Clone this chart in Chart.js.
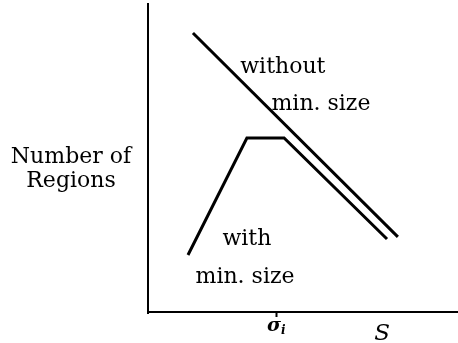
<!DOCTYPE html>
<html>
<head>
<meta charset="utf-8">
<script src="https://cdn.jsdelivr.net/npm/chart.js@4/dist/chart.umd.min.js"></script>
<style>
  html, body { margin: 0; padding: 0; background: #fff; }
  #wrap { width: 458px; height: 343px; }
</style>
</head>
<body>
<div id="wrap"><canvas id="regionsChart"></canvas></div>
<script>
// curve without minimum region size (straight fall)
const withoutMinX = [14.5, 80.6];
const withoutMinY = [90.6, 24.4];
// curve with minimum region size (rise, plateau, fall)
const withMinX = [12.9, 31.9, 43.9, 77.1];
const withMinY = [18.5, 56.5, 56.5, 23.7];
// x axis marks
const tickValues = [41.6, 75.5];
const tickLabels = ['σ', 'S'];

const toPoints = (xs, ys) => xs.map((x, i) => ({ x: x, y: ys[i] }));

const serif = '"DejaVu Serif", "Liberation Serif", serif';

// text labels drawn against the scales
const labelPlugin = {
    id: 'labels',
    afterDraw(chart) {
        const c = chart.ctx;
        const x = chart.scales.x;
        const y = chart.scales.y;
        c.save();
        c.fillStyle = '#000';
        c.textAlign = 'center';
        c.textBaseline = 'alphabetic';
        c.font = '22px ' + serif;

        c.fillText('without', x.getPixelForValue(43.5), y.getPixelForValue(77.6));
        c.fillText('min. size', x.getPixelForValue(55.8), y.getPixelForValue(65.6));
        c.fillText('with', x.getPixelForValue(31.9), y.getPixelForValue(21.8));
        c.fillText('min. size', x.getPixelForValue(31.3), y.getPixelForValue(9.4));

        // y axis title, horizontal, left of the axis
        const left = chart.chartArea.left;
        c.fillText('Number of', left - 77, y.getPixelForValue(48.4));
        c.fillText('Regions', left - 77, y.getPixelForValue(40.6));

        // x tick labels
        const base = chart.chartArea.bottom;
        const sx = x.getPixelForValue(tickValues[0]);
        c.font = 'italic bold 19px ' + serif;
        c.textAlign = 'right';
        c.fillText(tickLabels[0], sx + 4, base + 19);
        c.font = 'italic bold 12px ' + serif;
        c.textAlign = 'left';
        c.fillText('i', sx + 4, base + 22);

        c.font = 'italic 23px ' + serif;
        c.textAlign = 'center';
        c.fillText(tickLabels[1], x.getPixelForValue(tickValues[1]), base + 28);
        c.restore();
    }
};

new Chart(document.getElementById('regionsChart'), {
    type: 'scatter',
    data: {
        datasets: [{
            label: 'without min. size',
            data: toPoints(withoutMinX, withoutMinY),
            showLine: true,
            borderColor: '#000',
            borderWidth: 3,
            pointRadius: 0,
            borderCapStyle: 'butt'
        },
        {
            label: 'with min. size',
            data: toPoints(withMinX, withMinY),
            showLine: true,
            borderColor: '#000',
            borderWidth: 3,
            pointRadius: 0,
            borderJoinStyle: 'miter',
            borderCapStyle: 'butt'
        }]
    },
    options: {
        responsive: true,
        maintainAspectRatio: false,
        animation: false,
        layout: { padding: { left: 148, right: 0, top: 4, bottom: 26 } },
        plugins: {
            legend: { display: false },
            tooltip: { enabled: false }
        },
        scales: {
            x: {
                type: 'linear',
                min: 0,
                max: 100,
                afterBuildTicks: axis => { axis.ticks = tickValues.map(v => ({ value: v })); },
                ticks: { display: false },
                grid: {
                    display: true,
                    drawOnChartArea: false,
                    drawTicks: true,
                    tickLength: 5,
                    tickWidth: 2,
                    tickColor: ctx => ctx.index === 0 ? '#000' : 'rgba(0,0,0,0)'
                },
                border: { display: true, color: '#000', width: 2 }
            },
            y: {
                type: 'linear',
                min: 0,
                max: 100,
                ticks: { display: false },
                grid: { display: false, drawTicks: false, lineWidth: 3 },
                border: { display: true, color: '#000', width: 2 }
            }
        }
    },
    plugins: [labelPlugin]
});
</script>
</body>
</html>
